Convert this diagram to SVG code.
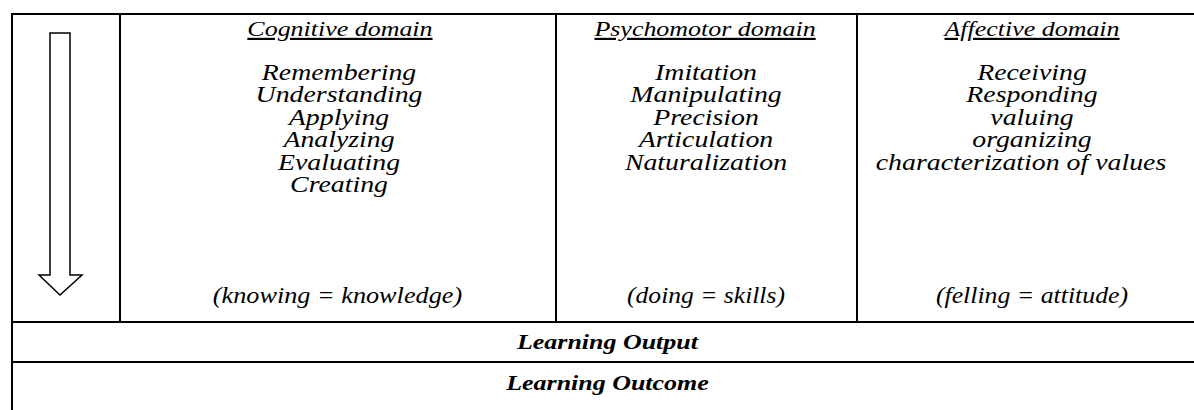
<svg xmlns="http://www.w3.org/2000/svg" width="1194" height="410" viewBox="0 0 1194 410">
<style>
.grid{stroke:#000;stroke-width:2;fill:none}
.t{font-family:'Liberation Serif','Times New Roman',serif;font-style:italic;font-size:23px;fill:#000;text-anchor:middle}
.h{font-size:22px;text-decoration:underline}
.b{font-weight:bold;font-size:22px}
.arrow{fill:#fff;stroke:#000;stroke-width:1.5}
</style>
<rect width="1194" height="410" fill="#fff"/>
<g id="table" class="grid">
<line x1="11" y1="14" x2="1194" y2="14"/>
<line x1="12" y1="13" x2="12" y2="410"/>
<line x1="120" y1="14" x2="120" y2="322"/>
<line x1="556" y1="14" x2="556" y2="322"/>
<line x1="857" y1="14" x2="857" y2="322"/>
<line x1="11" y1="322" x2="1194" y2="322"/>
<line x1="11" y1="362" x2="1194" y2="362"/>
</g>
<g id="arrow">
<path class="arrow" d="M50,33 H70 V275 H82 L60,295 L39,275 H50 Z"/>
</g>
<g id="headers" transform="scale(1.18,1)">
<text class="t h" x="288.1" y="36">Cognitive domain</text>
<text class="t h" x="597.5" y="36">Psychomotor domain</text>
<text class="t h" x="874.6" y="36">Affective domain</text>
</g>
<g id="cognitive" transform="scale(1.21,1)">
<text class="t" x="280.2" y="80">Remembering</text>
<text class="t" x="280.2" y="102.5">Understanding</text>
<text class="t" x="280.2" y="125">Applying</text>
<text class="t" x="280.2" y="147.5">Analyzing</text>
<text class="t" x="280.2" y="170">Evaluating</text>
<text class="t" x="280.2" y="192.5">Creating</text>
</g>
<g id="psychomotor" transform="scale(1.21,1)">
<text class="t" x="583.5" y="80">Imitation</text>
<text class="t" x="583.5" y="102.5">Manipulating</text>
<text class="t" x="583.5" y="125">Precision</text>
<text class="t" x="583.5" y="147.5">Articulation</text>
<text class="t" x="583.5" y="170">Naturalization</text>
</g>
<g id="affective" transform="scale(1.21,1)">
<text class="t" x="852.9" y="80">Receiving</text>
<text class="t" x="852.9" y="102.5">Responding</text>
<text class="t" x="852.9" y="125">valuing</text>
<text class="t" x="852.9" y="147.5">organizing</text>
<text class="t" x="843.8" y="170">characterization of values</text>
</g>
<g id="knowledge" transform="scale(1.141,1)">
<text class="t" x="295.8" y="303">(knowing = knowledge)</text>
</g>
<g id="skills" transform="scale(1.112,1)">
<text class="t" x="634.9" y="303">(doing = skills)</text>
</g>
<g id="attitude" transform="scale(1.122,1)">
<text class="t" x="919.8" y="303">(felling = attitude)</text>
</g>
<g id="output" transform="scale(1.18,1)">
<text class="t b" x="514.8" y="349">Learning Output</text>
</g>
<g id="outcome" transform="scale(1.18,1)">
<text class="t b" x="514.8" y="390">Learning Outcome</text>
</g>
</svg>
